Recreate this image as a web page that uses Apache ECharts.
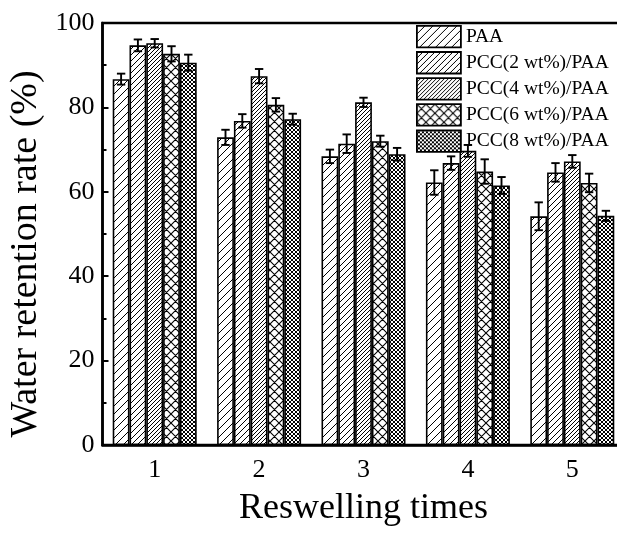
<!DOCTYPE html>
<html>
<head>
<meta charset="utf-8">
<script src="https://cdn.jsdelivr.net/npm/echarts@6/dist/echarts.min.js"></script>
<style>
html,body{margin:0;padding:0;background:#fff;}
#chart{width:617px;height:533px;}
</style>
</head>
<body>
<div id="chart"></div>
<script>
// ---- data ----
const categories = ['1', '2', '3', '4', '5'];
const seriesNames = ['PAA', 'PCC(2 wt%)/PAA', 'PCC(4 wt%)/PAA', 'PCC(6 wt%)/PAA', 'PCC(8 wt%)/PAA'];
const paa     = [86.7, 72.9, 68.4, 62.2, 54.2];
const paaErr  = [1.3, 1.8, 1.6, 2.9, 3.3];
const pcc2    = [94.7, 76.8, 71.4, 66.8, 64.6];
const pcc2Err = [1.4, 1.6, 2.2, 1.6, 2.2];
const pcc4    = [95.2, 87.4, 81.2, 69.7, 67.2];
const pcc4Err = [1.0, 1.7, 1.1, 1.4, 1.5];
const pcc6    = [92.7, 80.6, 72.0, 64.8, 62.1];
const pcc6Err = [1.8, 1.6, 1.3, 2.9, 2.2];
const pcc8    = [90.6, 77.2, 68.9, 61.5, 54.3];
const pcc8Err = [1.9, 1.3, 1.5, 2.0, 1.2];
const yTicks  = [0, 20, 40, 60, 80, 100];

const values = [paa, pcc2, pcc4, pcc6, pcc8];
const errors = [paaErr, pcc2Err, pcc4Err, pcc6Err, pcc8Err];

// ---- hatch patterns ----
function makeHatch(size, forward, backward, lw) {
  const c = document.createElement('canvas');
  c.width = size; c.height = size;
  const g = c.getContext('2d');
  g.fillStyle = '#fff';
  g.fillRect(0, 0, size, size);
  g.strokeStyle = '#000';
  g.lineWidth = lw || 1;
  g.beginPath();
  if (forward) {
    for (let k = -1; k <= 1; k++) {
      g.moveTo(k * size - 1, size + 1);
      g.lineTo(k * size + size + 1, -1);
    }
  }
  if (backward) {
    for (let k = -1; k <= 1; k++) {
      g.moveTo(k * size - 1, -1);
      g.lineTo(k * size + size + 1, size + 1);
    }
  }
  g.stroke();
  return { image: c, repeat: 'repeat' };
}
const patterns = [
  makeHatch(8, true, false, 1),
  makeHatch(6, true, false, 1),
  makeHatch(4, true, false, 1),
  makeHatch(9, true, true, 1.1),
  makeHatch(4, true, true, 1)
];

const BAR_W = 16.8;
const FONT = 'Liberation Serif';

const series = [];
seriesNames.forEach((name, i) => {
  series.push({
    name: name,
    type: 'bar',
    data: values[i],
    barWidth: BAR_W,
    barGap: '0%',
    itemStyle: { color: patterns[i], borderColor: '#000', borderWidth: 1.6 },
    emphasis: { disabled: true },
    animation: false,
    z: 2
  });
});
seriesNames.forEach((name, i) => {
  series.push({
    name: 'err' + i,
    type: 'custom',
    data: values[i].map((v, j) => [j, v - errors[i][j], v + errors[i][j]]),
    animation: false,
    z: 5,
    renderItem: function (params, api) {
      const lo = api.coord([api.value(0), api.value(1)]);
      const hi = api.coord([api.value(0), api.value(2)]);
      const x = lo[0] + (i - 2) * BAR_W;
      const cap = 4.2;
      const st = { stroke: '#000', lineWidth: 1.9 };
      return {
        type: 'group',
        children: [
          { type: 'line', shape: { x1: x, y1: lo[1], x2: x, y2: hi[1] }, style: st },
          { type: 'line', shape: { x1: x - cap, y1: lo[1], x2: x + cap, y2: lo[1] }, style: st },
          { type: 'line', shape: { x1: x - cap, y1: hi[1], x2: x + cap, y2: hi[1] }, style: st }
        ]
      };
    }
  });
});

const chart = echarts.init(document.getElementById('chart'), null, { renderer: 'canvas' });
chart.setOption({
  backgroundColor: '#fff',
  animation: false,
  grid: {
    left: 102.5, width: 522, top: 23, bottom: 88,
    outerBoundsMode: 'none',
    containLabel: false,
    show: true, borderColor: '#000', borderWidth: 2.5, backgroundColor: 'transparent'
  },
  legend: {
    data: seriesNames,
    orient: 'vertical',
    left: 411,
    top: 20,
    itemWidth: 44,
    itemHeight: 21.5,
    itemGap: 2.8,
    icon: 'rect',
    itemStyle: { borderColor: '#000', borderWidth: 1.8 },
    textStyle: { fontFamily: FONT, fontSize: 19.5, lineHeight: 20, color: '#000' },
    selectedMode: false
  },
  xAxis: {
    type: 'category',
    data: categories,
    boundaryGap: true,
    axisLine: { lineStyle: { color: '#000', width: 2.5 } },
    axisTick: { show: false },
    axisLabel: { fontFamily: FONT, fontSize: 26, color: '#000', margin: 12 },
    name: 'Reswelling times',
    nameLocation: 'middle',
    nameGap: 46,
    nameTextStyle: { fontFamily: FONT, fontSize: 36, color: '#000' }
  },
  yAxis: {
    type: 'value',
    min: yTicks[0],
    max: yTicks[yTicks.length - 1],
    interval: 20,
    axisLine: { show: true, lineStyle: { color: '#000', width: 2.5 } },
    axisTick: { show: true, inside: true, length: 6, lineStyle: { color: '#000', width: 2 } },
    minorTick: { show: true, splitNumber: 2, length: 4, lineStyle: { color: '#000', width: 2 } },
    splitLine: { show: false },
    axisLabel: { fontFamily: FONT, fontSize: 26, color: '#000', margin: 8 },
    name: 'Water retention rate (%)',
    nameLocation: 'middle',
    nameGap: 52,
    nameTextStyle: { fontFamily: FONT, fontSize: 38, color: '#000', padding: [0, 40, 0, 0] }
  },
  series: series
});
</script>
</body>
</html>
